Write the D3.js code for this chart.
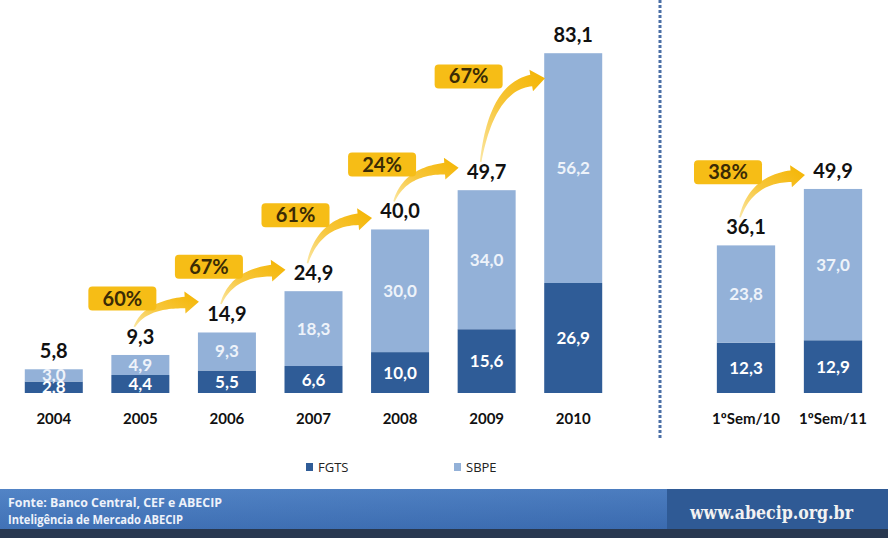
<!DOCTYPE html>
<html>
<head>
<meta charset="utf-8">
<script src="https://cdn.jsdelivr.net/npm/d3@7"></script>
<style>
  html, body { margin: 0; padding: 0; background: #ffffff; }
  svg { display: block; }
</style>
</head>
<body>
<svg id="chart" width="888" height="538"></svg>
<script>
// ---- data ----
const yearCategories = ["2004", "2005", "2006", "2007", "2008", "2009", "2010"];
const semCategories = ["1ºSem/10", "1ºSem/11"];
const categories = yearCategories.concat(semCategories);
const fgts = [2.8, 4.4, 5.5, 6.6, 10.0, 15.6, 26.9, 12.3, 12.9];
const sbpe = [3.0, 4.9, 9.3, 18.3, 30.0, 34.0, 56.2, 23.8, 37.0];
const totals = [5.8, 9.3, 14.9, 24.9, 40.0, 49.7, 83.1, 36.1, 49.9];
const growthFrom = ["2005", "2006", "2007", "2008", "2009", "1ºSem/10"];
const growthTo = ["2006", "2007", "2008", "2009", "2010", "1ºSem/11"];
const growthLabels = ["60%", "67%", "61%", "24%", "67%", "38%"];
const seriesNames = ["FGTS", "SBPE"];
const sourceLines = ["Fonte: Banco Central, CEF e ABECIP", "Inteligência de Mercado ABECIP"];
const siteLabel = "www.abecip.org.br";

// ---- styles ----
const C_FGTS = "#2f5c97";
const C_SBPE = "#93b1d8";
const FONT = "Lato, 'Open Sans', sans-serif";
const NARROW = "'Liberation Sans Narrow', 'Open Sans', sans-serif";

const fmt = d3.formatLocale({decimal: ",", thousands: ".", grouping: [3], currency: ["R$", ""]}).format(".1f");

const svg = d3.select("#chart");
const defs = svg.append("defs");

// scales
const y = d3.scaleLinear().domain([0, 90]).range([393, 25]);
const xL = d3.scaleBand().domain(yearCategories).range([10.5, 616.5]).paddingInner(0.33).paddingOuter(0.165);
const xR = d3.scaleBand().domain(semCategories).range([702.5, 876.5]).paddingInner(0.33).paddingOuter(0.165);
function xs(c) { return yearCategories.includes(c) ? xL : xR; }
function xLeft(c) { return xs(c)(c); }
function xMid(c) { return xs(c)(c) + xs(c).bandwidth() / 2; }
function bw(c) { return xs(c).bandwidth(); }
const idx = c => categories.indexOf(c);

const rows = categories.map((c, i) => ({cat: c, FGTS: fgts[i], SBPE: sbpe[i], total: totals[i]}));
const stacked = d3.stack().keys(seriesNames)(rows);
const colors = {FGTS: C_FGTS, SBPE: C_SBPE};

// separator dotted line
svg.append("line")
  .attr("x1", 660).attr("x2", 660).attr("y1", 0).attr("y2", 438)
  .attr("stroke", "#4a6fa5").attr("stroke-width", 3).attr("stroke-dasharray", "3,2");

// bars
const layers = svg.append("g").selectAll("g").data(stacked).join("g")
  .attr("fill", d => colors[d.key]);
layers.selectAll("rect").data(d => d).join("rect")
  .attr("x", d => xLeft(d.data.cat))
  .attr("width", d => bw(d.data.cat))
  .attr("y", d => y(d[1]))
  .attr("height", d => y(d[0]) - y(d[1]));

// inner labels
stacked.forEach(layer => {
  svg.append("g").selectAll("text").data(layer).join("text")
    .attr("x", d => xMid(d.data.cat))
    .attr("y", d => (y(d[0]) + y(d[1])) / 2 + 6)
    .attr("text-anchor", "middle")
    .attr("font-family", FONT).attr("font-weight", 700).attr("font-size", 17)
    .attr("fill", layer.key === "FGTS" ? "#ffffff" : "#eef3fa")
    .text(d => fmt(d.data[layer.key]));
});

// total labels
svg.append("g").selectAll("text").data(rows).join("text")
  .attr("x", d => xMid(d.cat))
  .attr("y", d => y(d.total) - 11)
  .attr("text-anchor", "middle")
  .attr("font-family", FONT).attr("font-weight", 700).attr("font-size", 20)
  .attr("fill", "#111111")
  .text(d => fmt(d.total));

// category axis labels
const axisL = d3.axisBottom(xL).tickSize(0).tickPadding(0);
const axisR = d3.axisBottom(xR).tickSize(0).tickPadding(0);
[axisL, axisR].forEach(ax => {
  const g = svg.append("g").attr("transform", "translate(0,410)").call(ax);
  g.select(".domain").remove();
  g.selectAll("text")
    .attr("font-family", FONT).attr("font-weight", 700).attr("font-size", 15)
    .attr("fill", "#111111").attr("dy", "0.9em");
});

// growth arrows and badges
const grad = defs.append("linearGradient").attr("id", "arrowGrad")
  .attr("x1", 0).attr("y1", 1).attr("x2", 1).attr("y2", 0);
grad.append("stop").attr("offset", "0%").attr("stop-color", "#fbe7a4");
grad.append("stop").attr("offset", "45%").attr("stop-color", "#f7c63a");
grad.append("stop").attr("offset", "100%").attr("stop-color", "#f4b400");

const labelY = c => y(totals[idx(c)]) - 18;

growthLabels.forEach((lab, k) => {
  const a = growthFrom[k], b = growthTo[k];
  const mid = (labelY(a) + labelY(b)) / 2;
  const bx = xMid(a) - 18, by = mid - 27;
  const S = [xMid(a) - 6, labelY(a) - 10];
  const T = [xMid(b) - 30, by];
  const E = [T[0] - 12, T[1] + 4];
  const Cp = [S[0] + 0.22 * (E[0] - S[0]), E[1] + 0.08 * (S[1] - E[1])];
  const pt = t => [
    (1 - t) * (1 - t) * S[0] + 2 * (1 - t) * t * Cp[0] + t * t * E[0],
    (1 - t) * (1 - t) * S[1] + 2 * (1 - t) * t * Cp[1] + t * t * E[1]
  ];
  const tan = t => {
    const dx = 2 * (1 - t) * (Cp[0] - S[0]) + 2 * t * (E[0] - Cp[0]);
    const dy = 2 * (1 - t) * (Cp[1] - S[1]) + 2 * t * (E[1] - Cp[1]);
    const L = Math.hypot(dx, dy) || 1;
    return [dx / L, dy / L];
  };
  const left = [], right = [];
  const N = 30;
  for (let i = 0; i <= N; i++) {
    const t = i / N;
    const p = pt(t), d = tan(t);
    const w = 0.8 + 5 * t;
    left.push([p[0] - d[1] * w, p[1] + d[0] * w]);
    right.push([p[0] + d[1] * w, p[1] - d[0] * w]);
  }
  const dEnd = tan(1);
  const hw = 11, hl = 14;
  const base1 = [E[0] - dEnd[1] * hw, E[1] + dEnd[0] * hw];
  const base2 = [E[0] + dEnd[1] * hw, E[1] - dEnd[0] * hw];
  const tip = [E[0] + dEnd[0] * hl, E[1] + dEnd[1] * hl];
  const poly = left.concat([base1, tip, base2]).concat(right.reverse());
  svg.append("path")
    .attr("d", d3.line()(poly) + "Z")
    .attr("fill", "url(#arrowGrad)");

  const g = svg.append("g").attr("transform", `translate(${bx},${by})`);
  g.append("rect")
    .attr("x", -34).attr("y", -12).attr("width", 68).attr("height", 24)
    .attr("rx", 4).attr("fill", "#f6bd16");
  g.append("text")
    .attr("text-anchor", "middle").attr("y", 7)
    .attr("font-family", FONT).attr("font-weight", 700).attr("font-size", 20)
    .attr("fill", "#3a2b05")
    .text(lab);
});

// legend
const legend = svg.append("g");
seriesNames.forEach((s, i) => {
  const lx = 306 + i * 148;
  legend.append("rect").attr("x", lx).attr("y", 463).attr("width", 7).attr("height", 8).attr("fill", colors[s]);
  legend.append("text").attr("x", lx + 12).attr("y", 472)
    .attr("font-family", NARROW).attr("font-size", 13).attr("fill", "#222222")
    .text(s);
});

// footer
const fg = defs.append("linearGradient").attr("id", "footGrad").attr("x1", 0).attr("y1", 0).attr("x2", 0).attr("y2", 1);
fg.append("stop").attr("offset", "0%").attr("stop-color", "#5a8ccc");
fg.append("stop").attr("offset", "100%").attr("stop-color", "#3767ab");
const fh = defs.append("linearGradient").attr("id", "footGradH").attr("x1", 0).attr("y1", 0).attr("x2", 1).attr("y2", 0);
fh.append("stop").attr("offset", "0%").attr("stop-color", "#4a7cc0");
fh.append("stop").attr("offset", "100%").attr("stop-color", "#3d6db2");

svg.append("rect").attr("x", 0).attr("y", 489).attr("width", 888).attr("height", 41).attr("fill", "url(#footGrad)");
svg.append("rect").attr("x", 0).attr("y", 489).attr("width", 667).attr("height", 41).attr("fill", "url(#footGradH)").attr("opacity", 0.5);
svg.append("rect").attr("x", 667).attr("y", 489).attr("width", 221).attr("height", 41).attr("fill", "#2f5a95");
svg.append("rect").attr("x", 0).attr("y", 529).attr("width", 888).attr("height", 9).attr("fill", "#283850");

sourceLines.forEach((t, i) => {
  svg.append("text").attr("x", 8).attr("y", 507 + i * 17)
    .attr("font-family", NARROW).attr("font-weight", 700).attr("font-size", 12.5)
    .attr("fill", "#eef2fa")
    .attr("textLength", i === 0 ? 214 : 175).attr("lengthAdjust", "spacingAndGlyphs")
    .text(t);
});
svg.append("text").attr("x", 690).attr("y", 519)
  .attr("font-family", "'DejaVu Serif', 'Liberation Serif', serif").attr("font-weight", 700).attr("font-size", 19)
  .attr("fill", "#f2f2f2")
  .attr("textLength", 163).attr("lengthAdjust", "spacingAndGlyphs")
  .text(siteLabel);
</script>
</body>
</html>
